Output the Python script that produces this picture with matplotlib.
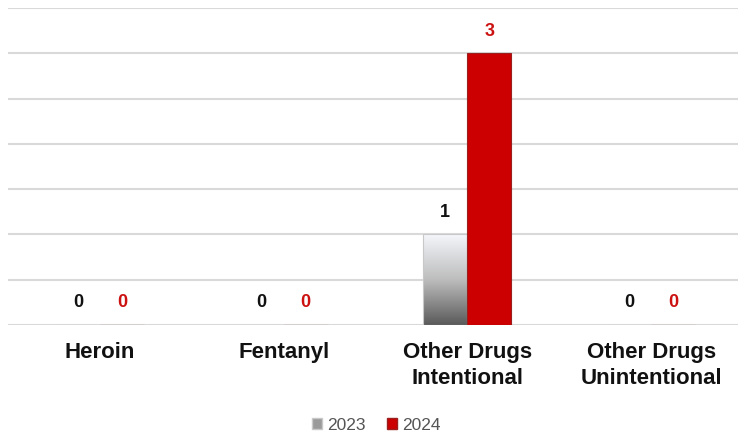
import matplotlib.pyplot as plt
import numpy as np
from matplotlib.patches import Patch
from matplotlib.colors import LinearSegmentedColormap

categories = ["Heroin", "Fentanyl", "Other Drugs\nIntentional", "Other Drugs\nUnintentional"]
vals_2023 = [0, 0, 1, 0]
vals_2024 = [0, 0, 3, 0]
series_names = ["2023", "2024"]

plt.rcParams['font.family'] = ['Liberation Sans', 'DejaVu Sans']

fig = plt.figure(figsize=(7.38, 4.38), dpi=100)
ax = fig.add_axes([8/738, 1 - 325/438, 735/738, (325 - 8)/438])

x = np.arange(len(categories))
w = 0.24
grey = LinearSegmentedColormap.from_list("g", ["#f4f6fb", "#bdbdbd", "#5a5a5a"])

bars1 = ax.bar(x - w/2, vals_2023, w, color="none", edgecolor="#c8c8c8", linewidth=0.8, zorder=3)
bars2 = ax.bar(x + w/2, vals_2024, w, color="#cc0000", edgecolor="#9a2020", linewidth=0.8, zorder=3)

# gradient fill for the 2023 bars (light at top, dark at bottom)
grad = np.linspace(0, 1, 256).reshape(-1, 1)
for b in bars1:
    if b.get_height() > 0:
        x0, y0 = b.get_x(), b.get_y()
        im = ax.imshow(grad, cmap=grey, aspect="auto", zorder=2.5, origin="upper",
                       extent=[x0, x0 + b.get_width(), y0, y0 + b.get_height()])
        im.set_clip_path(b)

for xi, v in zip(x, vals_2023):
    ax.text(xi - w/2, v + 0.15, str(v), ha="center", va="bottom", fontsize=13,
            fontweight="bold", color="#111111")
for xi, v in zip(x, vals_2024):
    ax.text(xi + w/2, v + 0.15, str(v), ha="center", va="bottom", fontsize=13,
            fontweight="bold", color="#cc1111")

ax.set_xlim(-0.5, len(categories) - 0.5)
ax.set_ylim(0, 3.5)
ax.set_yticks(np.arange(0, 3.51, 0.5))
ax.yaxis.grid(True, color="#d9d9d9", linewidth=1.5, zorder=0)
ax.set_axisbelow(True)
ax.tick_params(axis="y", left=False, labelleft=False)
ax.tick_params(axis="x", bottom=False, pad=9)
ax.set_xticks(x)
ax.set_xticklabels(categories, fontsize=16, fontweight="bold", color="#111111", linespacing=1.3)
for s in ax.spines.values():
    s.set_visible(False)

handles = [Patch(facecolor="#9a9a9a", edgecolor="#c8c8c8"), Patch(facecolor="#cc0000", edgecolor="#9a2020")]
fig.legend(handles, series_names, loc="center", bbox_to_anchor=(0.51, 1 - 425/438), ncol=2,
           frameon=False, fontsize=12.5, handlelength=0.6, handleheight=0.6, handletextpad=0.3,
           columnspacing=1.2, labelcolor="#555555")

fig.savefig("out.png", dpi=100)
